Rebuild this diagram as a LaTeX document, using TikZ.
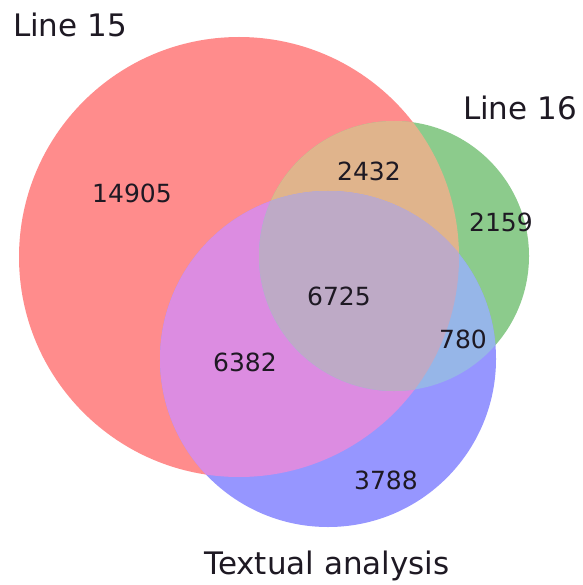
\documentclass[tikz,border=0pt]{standalone}
\usepackage{fontspec}
\setmainfont{DejaVu Sans}
\definecolor{cR}{RGB}{255,140,140}
\definecolor{cG}{RGB}{140,203,140}
\definecolor{cB}{RGB}{150,150,255}
\definecolor{cRG}{RGB}{224,180,140}
\definecolor{cRB}{RGB}{220,140,225}
\definecolor{cGB}{RGB}{150,182,232}
\definecolor{cRGB}{RGB}{190,170,198}
\definecolor{txt}{RGB}{30,25,35}
\tikzset{
  num/.style={font=\fontsize{25}{25}\selectfont, text=txt, inner sep=0pt},
  setlabel/.style={font=\fontsize{31}{31}\selectfont, text=txt, inner sep=0pt}
}
\begin{document}
\begin{tikzpicture}[x=1pt,y=-1pt]
\useasboundingbox (0,0) rectangle (582,585);
\fill[white] (0,0) rectangle (582,585);
\coordinate (R) at (239,257);
\coordinate (G) at (394,256);
\coordinate (B) at (328,359);
\def\rR{220}\def\rG{135}\def\rB{168}
% single sets
\fill[cR] (R) circle[radius=\rR];
\fill[cG] (G) circle[radius=\rG];
\fill[cB] (B) circle[radius=\rB];
% pairwise
\begin{scope}\clip (R) circle[radius=\rR]; \fill[cRG] (G) circle[radius=\rG]; \end{scope}
\begin{scope}\clip (R) circle[radius=\rR]; \fill[cRB] (B) circle[radius=\rB]; \end{scope}
\begin{scope}\clip (G) circle[radius=\rG]; \fill[cGB] (B) circle[radius=\rB]; \end{scope}
% triple
\begin{scope}\clip (R) circle[radius=\rR]; \clip (G) circle[radius=\rG]; \fill[cRGB] (B) circle[radius=\rB]; \end{scope}
% labels
\node[setlabel] (l15) at (70,25) {Line 15};
\node[setlabel] (l16) at (520,108) {Line 16};
\node[setlabel] (lta) at (327,566) {Textual analysis};
% counts
\node[num] (n100) at (132,193) {14905};
\node[num] (n110) at (369,171) {2432};
\node[num] (n010) at (501,222) {2159};
\node[num] (n111) at (339,296) {6725};
\node[num] (n011) at (463,339) {780};
\node[num] (n101) at (245,362) {6382};
\node[num] (n001) at (386,480) {3788};
\end{tikzpicture}
\end{document}
